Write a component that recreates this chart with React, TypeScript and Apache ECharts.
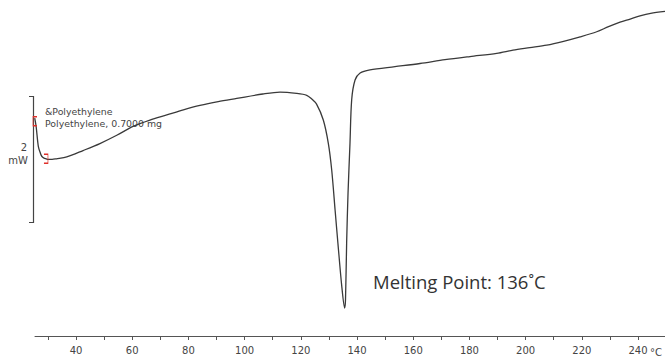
import React, { useEffect, useRef } from "react";
import * as echarts from "echarts";

// Temperature (°C) and heat flow (mW, arbitrary offset)
const temperature = [
  25.3, 25.8, 26.6, 27.3, 27.8, 28.6, 29.4, 30.0, 31.5, 33.0, 36.7, 42.5, 48.5, 54.5, 60.3,
  66.3, 72.3, 78.2, 84.1, 90.6, 97.2, 106.5, 112.6, 118.5, 122.1, 123.9, 125.6, 128.0, 129.8,
  131.0, 132.2, 133.2, 134.6, 135.6, 135.9, 136.3, 136.8, 137.5, 138.1, 139.3, 141.1, 144.6,
  153.5, 162.4, 171.3, 180.2, 189.7, 195.5, 201.5, 207.5, 213.5, 219.4, 225.3, 229.5, 233.6,
  237.2, 240.7, 244.5, 249.6,
];
const heatFlow = [
  3.43, 3.30, 2.98, 2.88, 2.83, 2.80, 2.79, 2.78, 2.78, 2.79, 2.82, 2.92, 3.03, 3.16, 3.30,
  3.40, 3.48, 3.56, 3.63, 3.69, 3.74, 3.81, 3.84, 3.82, 3.79, 3.73, 3.65, 3.40, 3.03,
  2.61, 1.98, 1.46, 0.77, 0.44, 0.57, 1.46, 2.25, 3.04, 3.72, 4.03, 4.14, 4.19,
  4.24, 4.29, 4.35, 4.40, 4.45, 4.50, 4.54, 4.58, 4.64, 4.71, 4.79, 4.87, 4.94,
  4.99, 5.04, 5.08, 5.11,
];
const majorTicks = [30, 40, 50, 60, 70, 80, 90, 100, 110, 120, 130, 140, 150, 160, 170, 180, 190, 200, 210, 220, 230, 240];
const tickLabels = [40, 60, 80, 100, 120, 140, 160, 180, 200, 220, 240];
const markerPoints: [number, number][] = [
  [25.4, 3.38],
  [29.3, 2.79],
];
const sampleLines = ["&Polyethylene", "Polyethylene, 0.7000 mg"];
const annotation = "Melting Point: 136˚C";

export default function App() {
  const ref = useRef<HTMLDivElement>(null);
  useEffect(() => {
    if (!ref.current) return;
    const chart = echarts.init(ref.current, null, { renderer: "svg" });
    const data = temperature.map((t, i) => [t, heatFlow[i]]);
    chart.setOption({
      animation: false,
      backgroundColor: "#ffffff",
      grid: { left: 35, right: 0, top: 0, bottom: 25, containLabel: false },
      xAxis: {
        type: "value",
        min: 25.4,
        max: 249.6,
        axisLine: { show: true, lineStyle: { color: "#555", width: 1 } },
        axisTick: { show: true, customValues: majorTicks, length: 4, lineStyle: { color: "#555" } },
        axisLabel: {
          customValues: tickLabels,
          color: "#444",
          fontSize: 10,
          fontFamily: "DejaVu Sans",
          margin: 9,
        },
        splitLine: { show: false },
      },
      yAxis: {
        type: "value",
        min: 0,
        max: 5.29,
        show: false,
      },
      series: [
        {
          type: "line",
          data,
          showSymbol: false,
          smooth: 0.3,
          lineStyle: { color: "#3a3a3a", width: 1.3 },
          markPoint: {
            symbolSize: [4, 9],
            label: { show: false },
            data: [
              {
                coord: markerPoints[0],
                symbol: "path://M4,0 L0,0 L0,10 L4,10",
                itemStyle: { color: "rgba(0,0,0,0)", borderColor: "#e0302a", borderWidth: 1 },
              },
              {
                coord: markerPoints[1],
                symbol: "path://M0,0 L4,0 L4,10 L0,10",
                itemStyle: { color: "rgba(0,0,0,0)", borderColor: "#e0302a", borderWidth: 1 },
              },
            ],
          },
        },
      ],
      graphic: [
        {
          type: "polyline",
          shape: { points: [[29, 96.5], [33.5, 96.5], [33.5, 222.5], [29, 222.5]] },
          style: { stroke: "#444", lineWidth: 1.2, fill: null },
        },
        {
          type: "text",
          x: 27,
          y: 147,
          style: { text: "2", fill: "#444", font: "10px DejaVu Sans", align: "right", verticalAlign: "middle" },
        },
        {
          type: "text",
          x: 28,
          y: 160,
          style: { text: "mW", fill: "#444", font: "10px DejaVu Sans", align: "right", verticalAlign: "middle" },
        },
        {
          type: "text",
          x: 45,
          y: 111.5,
          style: { text: sampleLines[0], fill: "#444", font: "9.4px DejaVu Sans", verticalAlign: "middle" },
        },
        {
          type: "text",
          x: 45,
          y: 123.5,
          style: { text: sampleLines[1], fill: "#444", font: "9.4px DejaVu Sans", verticalAlign: "middle" },
        },
        {
          type: "text",
          x: 373,
          y: 281,
          style: { text: annotation, fill: "#333", font: "18.5px Open Sans", verticalAlign: "middle" },
        },
        {
          type: "text",
          x: 650,
          y: 352,
          style: { text: "°C", fill: "#444", font: "10px DejaVu Sans", verticalAlign: "middle" },
        },
      ],
    });
    return () => chart.dispose();
  }, []);
  return (
    <div
      ref={ref}
      style={{ position: "absolute", left: 0, top: 0, width: 665, height: 361 }}
    />
  );
}
